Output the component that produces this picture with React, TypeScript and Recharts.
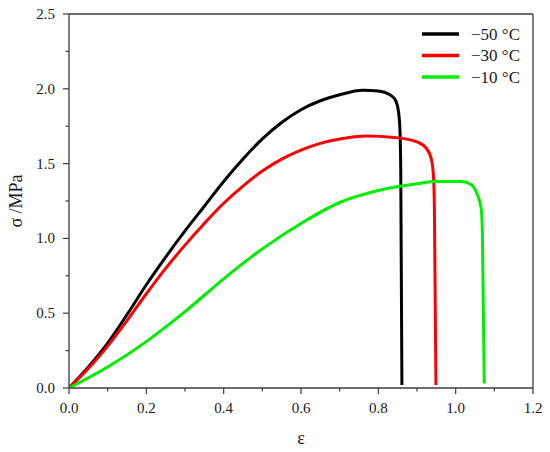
import React from "react";
import { LineChart, Line, XAxis, YAxis, ReferenceLine, Legend } from "recharts";

const blackX = [0, 0.05, 0.1, 0.15, 0.2, 0.25, 0.3, 0.35, 0.4, 0.45, 0.5, 0.55, 0.6, 0.65, 0.7, 0.76, 0.8, 0.83, 0.845, 0.852, 0.856, 0.858, 0.861];
const blackY = [0, 0.14, 0.3, 0.49, 0.69, 0.875, 1.05, 1.215, 1.38, 1.53, 1.665, 1.775, 1.86, 1.92, 1.96, 1.99, 1.985, 1.96, 1.92, 1.85, 1.72, 1.45, 0.02];

const redX = [0, 0.05, 0.1, 0.15, 0.2, 0.25, 0.3, 0.35, 0.4, 0.45, 0.5, 0.55, 0.6, 0.65, 0.7, 0.77, 0.84, 0.9, 0.925, 0.938, 0.943, 0.945, 0.949];
const redY = [0, 0.13, 0.28, 0.45, 0.63, 0.8, 0.955, 1.1, 1.235, 1.35, 1.45, 1.53, 1.59, 1.635, 1.665, 1.685, 1.675, 1.645, 1.6, 1.52, 1.4, 1.2, 0.02];

const greenX = [0, 0.1, 0.2, 0.3, 0.4, 0.5, 0.6, 0.7, 0.8, 0.9, 0.95, 1.015, 1.04, 1.055, 1.066, 1.069, 1.074];
const greenY = [0, 0.14, 0.31, 0.51, 0.73, 0.93, 1.1, 1.24, 1.32, 1.365, 1.38, 1.38, 1.36, 1.3, 1.2, 1.05, 0.03];

const xTicks = [0, 0.1, 0.2, 0.3, 0.4, 0.5, 0.6, 0.7, 0.8, 0.9, 1.0, 1.1, 1.2];
const yTicks = [0, 0.25, 0.5, 0.75, 1.0, 1.25, 1.5, 1.75, 2.0, 2.25, 2.5];

const seriesNames = ["\u221250 \u00b0C", "\u221230 \u00b0C", "\u221210 \u00b0C"];
const seriesColors = ["#000000", "#ff0000", "#00ee00"];

const toPoints = (xs: number[], ys: number[]) => xs.map((x, i) => ({ x, y: ys[i] }));
const blackData = toPoints(blackX, blackY);
const redData = toPoints(redX, redY);
const greenData = toPoints(greenX, greenY);

const FONT = "Liberation Serif, serif";
const AXIS = "#3c3c3c";
const TEXT = "#1a1a1a";

const isMult = (v: number, step: number) => Math.abs(v / step - Math.round(v / step)) < 1e-6;

const XTick = (props: any) => {
  const { x, y, payload } = props;
  const major = isMult(payload.value, 0.2);
  return (
    <g>
      <line x1={x} x2={x} y1={y} y2={y + (major ? 6 : 3.5)} stroke={AXIS} strokeWidth={1.2} />
      {major && (
        <text x={x} y={y + 25} textAnchor="middle" fontFamily={FONT} fontSize={15} fill={TEXT}>
          {payload.value.toFixed(1)}
        </text>
      )}
    </g>
  );
};

const YTick = (props: any) => {
  const { x, y, payload } = props;
  const major = isMult(payload.value, 0.5);
  return (
    <g>
      <line x1={x} x2={x - (major ? 6 : 3.5)} y1={y} y2={y} stroke={AXIS} strokeWidth={1.2} />
      {major && (
        <text x={x - 14} y={y + 5} textAnchor="end" fontFamily={FONT} fontSize={15} fill={TEXT}>
          {payload.value.toFixed(1)}
        </text>
      )}
    </g>
  );
};

const YLabel = (props: any) => {
  const vb = props.viewBox || { x: 0, y: 0, width: 0, height: 0 };
  const cx = vb.x + 16;
  const cy = vb.y + vb.height / 2;
  return (
    <text x={cx} y={cy} transform={`rotate(-90 ${cx} ${cy})`} textAnchor="middle" dominantBaseline="central" fontFamily={FONT} fontSize={18} fill={TEXT}>
      σ /MPa
    </text>
  );
};

const LegendBox = () => (
  <svg width={125} height={70}>
    {seriesNames.map((n, i) => (
      <g key={n}>
        <line x1={7} x2={44} y1={14 + i * 21.5} y2={14 + i * 21.5} stroke={seriesColors[i]} strokeWidth={3.5} />
        <text x={56} y={14 + i * 21.5} dominantBaseline="central" fontFamily={FONT} fontSize={17} fill={TEXT}>
          {n}
        </text>
      </g>
    ))}
  </svg>
);

export default function App() {
  return (
    <div style={{ position: "absolute", left: 0, top: 0, width: 550, height: 452, background: "#fff", fontFamily: FONT }}>
      <LineChart width={550} height={452} margin={{ top: 14, right: 17, bottom: 0, left: 0 }}>
        <XAxis
          type="number"
          dataKey="x"
          domain={[0, 1.2]}
          ticks={xTicks}
          interval={0}
          tick={<XTick />}
          tickLine={false}
          tickSize={0}
          tickMargin={0}
          height={64}
          axisLine={{ stroke: AXIS, strokeWidth: 1.3 }}
          allowDataOverflow
          label={{ value: "ε", position: "insideBottom", offset: 8, fontFamily: FONT, fontSize: 18, fill: TEXT }}
        />
        <YAxis
          type="number"
          dataKey="y"
          domain={[0, 2.5]}
          ticks={yTicks}
          interval={0}
          tick={<YTick />}
          tickLine={false}
          tickSize={0}
          tickMargin={0}
          width={69}
          axisLine={{ stroke: AXIS, strokeWidth: 1.3 }}
          allowDataOverflow
          label={{ content: <YLabel /> }}
        />
        <ReferenceLine y={2.5} stroke={AXIS} strokeWidth={1.3} />
        <ReferenceLine x={1.2} stroke={AXIS} strokeWidth={1.3} />
        <Line data={blackData} dataKey="y" type="monotone" stroke={seriesColors[0]} strokeWidth={3} dot={false} isAnimationActive={false} name={seriesNames[0]} />
        <Line data={redData} dataKey="y" type="monotone" stroke={seriesColors[1]} strokeWidth={3} dot={false} isAnimationActive={false} name={seriesNames[1]} />
        <Line data={greenData} dataKey="y" type="monotone" stroke={seriesColors[2]} strokeWidth={3} dot={false} isAnimationActive={false} name={seriesNames[2]} />
        <Legend
          layout="horizontal"
          verticalAlign="middle"
          align="center"
          content={<LegendBox />}
          wrapperStyle={{ left: 415, top: 20, width: 125, height: 70 }}
        />
      </LineChart>
    </div>
  );
}
